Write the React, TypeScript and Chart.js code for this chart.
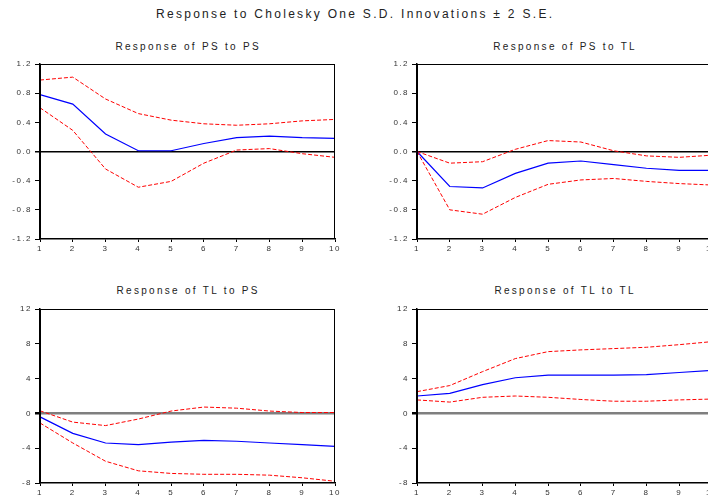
import React, { useEffect, useRef } from "react";
import { Chart, registerables } from "chart.js";

Chart.register(...registerables);

const xLabels = ["1", "2", "3", "4", "5", "6", "7", "8", "9", "10"];

// Response of PS to PS
const psPsMid = [0.78, 0.65, 0.24, 0.01, 0.01, 0.11, 0.19, 0.21, 0.19, 0.18];
const psPsUpper = [0.98, 1.02, 0.72, 0.52, 0.43, 0.38, 0.36, 0.38, 0.42, 0.44];
const psPsLower = [0.6, 0.29, -0.24, -0.49, -0.41, -0.16, 0.02, 0.04, -0.03, -0.08];

// Response of PS to TL
const psTlMid = [0.0, -0.48, -0.5, -0.3, -0.16, -0.13, -0.18, -0.23, -0.26, -0.26];
const psTlUpper = [0.0, -0.16, -0.14, 0.03, 0.15, 0.13, 0.01, -0.06, -0.08, -0.05];
const psTlLower = [0.0, -0.8, -0.86, -0.63, -0.45, -0.39, -0.37, -0.41, -0.44, -0.46];

// Response of TL to PS
const tlPsMid = [-0.4, -2.3, -3.4, -3.6, -3.3, -3.1, -3.2, -3.4, -3.6, -3.8];
const tlPsUpper = [0.3, -1.0, -1.4, -0.65, 0.27, 0.73, 0.6, 0.27, 0.1, 0.1];
const tlPsLower = [-1.1, -3.4, -5.5, -6.6, -6.9, -7.0, -7.0, -7.1, -7.4, -7.8];

// Response of TL to TL
const tlTlMid = [2.0, 2.3, 3.3, 4.1, 4.4, 4.4, 4.4, 4.45, 4.7, 4.95];
const tlTlUpper = [2.5, 3.2, 4.8, 6.3, 7.1, 7.3, 7.45, 7.6, 7.9, 8.25];
const tlTlLower = [1.55, 1.3, 1.85, 2.0, 1.85, 1.6, 1.4, 1.4, 1.55, 1.65];

const psAxis = { min: -1.2, max: 1.2, step: 0.4 };
const tlAxis = { min: -8, max: 12, step: 4 };

const mainTitle = "Response to Cholesky One S.D. Innovations \u00b1 2 S.E.";
const panelTitles = [
  "Response of PS to PS",
  "Response of PS to TL",
  "Response of TL to PS",
  "Response of TL to TL",
];

const FONT = "'Liberation Sans', Arial, sans-serif";

const spacingPlugin = {
  id: "spacing",
  beforeDraw(chart: any) {
    (chart.ctx as any).letterSpacing = "1.5px";
  },
};

const framePlugin = {
  id: "frame",
  afterDraw(chart: any) {
    const { ctx, chartArea } = chart;
    ctx.save();
    ctx.strokeStyle = "#000";
    ctx.lineWidth = 1;
    ctx.strokeRect(
      chartArea.left + 0.5,
      chartArea.top + 0.5,
      chartArea.right - chartArea.left - 1,
      chartArea.bottom - chartArea.top - 1
    );
    ctx.restore();
  },
};

type PanelProps = {
  mid: number[];
  upper: number[];
  lower: number[];
  axis: { min: number; max: number; step: number };
  decimals: number;
  zeroColor: string;
  zeroWidth: number;
  left: number;
  top: number;
  padTop: number;
};

function Panel(p: PanelProps) {
  const ref = useRef<HTMLCanvasElement | null>(null);
  useEffect(() => {
    if (!ref.current) return;
    const dashed = (data: number[]) => ({
      data,
      borderColor: "#ff0000",
      borderWidth: 1,
      borderDash: [4, 2],
      pointRadius: 0,
      tension: 0,
      fill: false,
    });
    const chart = new Chart(ref.current, {
      type: "line",
      data: {
        labels: xLabels,
        datasets: [
          dashed(p.upper),
          dashed(p.lower),
          {
            data: p.mid,
            borderColor: "#0000ff",
            borderWidth: 1.2,
            pointRadius: 0,
            tension: 0,
            fill: false,
          },
        ],
      },
      options: {
        animation: false,
        responsive: false,
        maintainAspectRatio: false,
        devicePixelRatio: 1,
        layout: { padding: { top: p.padTop, right: 19, left: 0, bottom: 0 } },
        plugins: {
          legend: { display: false },
          tooltip: { enabled: false },
          title: { display: false },
        },
        scales: {
          x: {
            type: "category",
            offset: false,
            afterFit: (s: any) => {
              s.height = 17;
            },
            grid: {
              drawOnChartArea: false,
              drawTicks: true,
              tickLength: 3,
              tickColor: "#000",
            },
            border: { display: true, color: "#000", width: 1.5 },
            ticks: {
              autoSkip: false,
              maxRotation: 0,
              padding: 2,
              color: "#333",
              font: { family: FONT, size: 8 },
            },
          },
          y: {
            min: p.axis.min,
            max: p.axis.max,
            afterFit: (s: any) => {
              s.width = 40;
            },
            grid: {
              drawOnChartArea: true,
              drawTicks: true,
              tickLength: 5,
              tickColor: "#000",
              color: (c: any) =>
                c.tick && Math.abs(c.tick.value) < 1e-9 ? p.zeroColor : "rgba(0,0,0,0)",
              lineWidth: (c: any) =>
                c.tick && Math.abs(c.tick.value) < 1e-9 ? p.zeroWidth : 1,
            },
            border: { display: true, color: "#000", width: 1.5 },
            ticks: {
              stepSize: p.axis.step,
              padding: 3,
              color: "#333",
              font: { family: FONT, size: 8 },
              callback: (v: any) => Number(v).toFixed(p.decimals),
            },
          },
        },
      },
      plugins: [spacingPlugin, framePlugin],
    });
    return () => chart.destroy();
  }, []);
  return (
    <canvas
      ref={ref}
      width={354}
      height={200}
      style={{ position: "absolute", left: p.left, top: p.top, width: 354, height: 200 }}
    />
  );
}

const titleStyle = (cx: number, cy: number): React.CSSProperties => ({
  position: "absolute",
  left: cx - 150,
  top: cy - 6,
  width: 300,
  textAlign: "center",
  fontFamily: FONT,
  fontSize: 10,
  lineHeight: "12px",
  letterSpacing: "2.3px",
  paddingLeft: 2.3,
  boxSizing: "border-box",
  color: "#222",
  whiteSpace: "nowrap",
});

export default function App() {
  return (
    <div
      style={{
        position: "absolute",
        left: 0,
        top: 0,
        width: 708,
        height: 497,
        overflow: "hidden",
        background: "#fff",
      }}
    >
      <div
        style={{
          position: "absolute",
          left: 0,
          top: 7,
          width: 708,
          textAlign: "center",
          fontFamily: FONT,
          fontSize: 12,
          lineHeight: "14px",
          letterSpacing: "2.3px",
          paddingLeft: 2.3,
          boxSizing: "border-box",
          color: "#222",
          whiteSpace: "nowrap",
        }}
      >
        {mainTitle}
      </div>
      <div style={titleStyle(187, 47)}>{panelTitles[0]}</div>
      <div style={titleStyle(564, 47)}>{panelTitles[1]}</div>
      <div style={titleStyle(187, 291)}>{panelTitles[2]}</div>
      <div style={titleStyle(564, 291)}>{panelTitles[3]}</div>
      <Panel
        mid={psPsMid}
        upper={psPsUpper}
        lower={psPsLower}
        axis={psAxis}
        decimals={1}
        zeroColor="#000"
        zeroWidth={1.5}
        left={0}
        top={56}
        padTop={8}
      />
      <Panel
        mid={psTlMid}
        upper={psTlUpper}
        lower={psTlLower}
        axis={psAxis}
        decimals={1}
        zeroColor="#000"
        zeroWidth={1.5}
        left={377}
        top={56}
        padTop={8}
      />
      <Panel
        mid={tlPsMid}
        upper={tlPsUpper}
        lower={tlPsLower}
        axis={tlAxis}
        decimals={0}
        zeroColor="#7f7f7f"
        zeroWidth={2.5}
        left={0}
        top={300}
        padTop={9}
      />
      <Panel
        mid={tlTlMid}
        upper={tlTlUpper}
        lower={tlTlLower}
        axis={tlAxis}
        decimals={0}
        zeroColor="#7f7f7f"
        zeroWidth={2.5}
        left={377}
        top={300}
        padTop={9}
      />
    </div>
  );
}
